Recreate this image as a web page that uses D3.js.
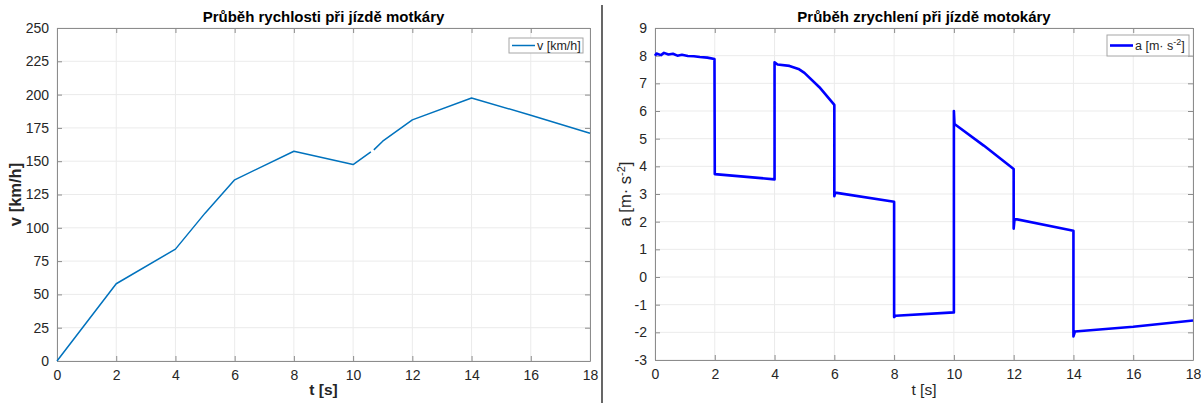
<!DOCTYPE html>
<html>
<head>
<meta charset="utf-8">
<script src="https://cdn.jsdelivr.net/npm/d3@7"></script>
<style>
  body { margin: 0; background: #fff; }
  text { font-family: "Liberation Sans", Arial, Helvetica, sans-serif; }
</style>
</head>
<body>
<div id="chart"></div>
<script>
// velocity series (null = small gap in the record)
var velT = [0, 2, 4, 5, 6, 8, 10, 10.6, 10.65, 10.7, 11, 12, 14, 16, 18];
var velV = [0, 58, 84, 111, 136, 157.5, 147.5, 157, null, 158.5, 165, 181, 197.5, 184.5, 171];
var velTicksY = [0, 25, 50, 75, 100, 125, 150, 175, 200, 225, 250];

// acceleration series (repeated times = steps)
var accT = [0, 0.05, 0.2, 0.3, 0.45, 0.6, 0.75, 0.9, 1.1, 1.3, 1.5, 1.75, 1.99,
  2.0, 4.0, 4.0, 4.1, 4.5, 4.8, 5.0, 5.5, 6.0, 6.0, 6.03, 8.0, 8.0, 8.05, 10.0,
  10.0, 10.02, 11.0, 12.0, 12.0, 12.03, 14.0, 14.0, 14.05, 16.0, 18.0];
var accV = [8.0, 8.08, 8.02, 8.1, 8.04, 8.07, 8.0, 8.03, 7.99, 7.98, 7.95, 7.93, 7.88,
  3.72, 3.53, 7.76, 7.68, 7.63, 7.52, 7.38, 6.86, 6.22, 2.92, 3.05, 2.72, -1.45, -1.4, -1.28,
  6.0, 5.53, 4.75, 3.9, 1.75, 2.1, 1.67, -2.15, -1.97, -1.8, -1.57];
var accTicksY = [-3, -2, -1, 0, 1, 2, 3, 4, 5, 6, 7, 8, 9];
var timeTicks = [0, 2, 4, 6, 8, 10, 12, 14, 16, 18];

var W = 1201, H = 403;
var svg = d3.select("#chart").append("svg").attr("width", W).attr("height", H);

// divider between the two figures
svg.append("line")
  .attr("x1", 602).attr("x2", 602).attr("y1", 5).attr("y2", H)
  .attr("stroke", "#000").attr("stroke-width", 1.2);

var axisColor = "#8c8c8c", gridColor = "#ebebeb", textColor = "#262626";

function drawPanel(opt) {
  var x = d3.scaleLinear().domain([0, 18]).range([opt.left, opt.right]);
  var y = d3.scaleLinear().domain(opt.yDomain).range([opt.bottom, opt.top]);
  var g = svg.append("g");

  // grid
  g.append("g").selectAll("line.gx").data(timeTicks).enter().append("line")
    .attr("x1", function (d) { return x(d); }).attr("x2", function (d) { return x(d); })
    .attr("y1", opt.top).attr("y2", opt.bottom)
    .attr("stroke", gridColor).attr("stroke-width", 1);
  g.append("g").selectAll("line.gy").data(opt.yTicks).enter().append("line")
    .attr("x1", opt.left).attr("x2", opt.right)
    .attr("y1", function (d) { return y(d); }).attr("y2", function (d) { return y(d); })
    .attr("stroke", gridColor).attr("stroke-width", 1);

  // axes (ticks inside, box)
  var fmt = function (d) { return d < 0 ? "-" + Math.abs(d) : d; };
  g.append("g").attr("transform", "translate(0," + opt.bottom + ")")
    .call(d3.axisBottom(x).tickValues(timeTicks).tickSizeInner(-5).tickSizeOuter(0).tickPadding(9))
    .call(function (a) { a.select(".domain").attr("stroke", axisColor); });
  g.append("g").attr("transform", "translate(0," + opt.top + ")")
    .call(d3.axisTop(x).tickValues(timeTicks).tickSizeInner(-5).tickSizeOuter(0).tickFormat(""))
    .call(function (a) { a.select(".domain").attr("stroke", axisColor); });
  g.append("g").attr("transform", "translate(" + opt.left + ",0)")
    .call(d3.axisLeft(y).tickValues(opt.yTicks).tickSizeInner(-5).tickSizeOuter(0).tickPadding(8).tickFormat(fmt))
    .call(function (a) { a.select(".domain").attr("stroke", axisColor); });
  g.append("g").attr("transform", "translate(" + opt.right + ",0)")
    .call(d3.axisRight(y).tickValues(opt.yTicks).tickSizeInner(-5).tickSizeOuter(0).tickFormat(""))
    .call(function (a) { a.select(".domain").attr("stroke", axisColor); });
  g.selectAll(".tick line").attr("stroke", axisColor);
  g.selectAll(".tick text").attr("fill", textColor).style("font-size", "14px")
    .style("font-family", "'Liberation Sans', Arial, sans-serif");

  // data line
  var pts = opt.t.map(function (d, i) { return [d, opt.v[i]]; });
  g.append("path").datum(pts)
    .attr("fill", "none").attr("stroke", opt.color).attr("stroke-width", opt.lw)
    .attr("stroke-linejoin", "round")
    .attr("d", d3.line()
      .defined(function (d) { return d[1] !== null; })
      .x(function (d) { return x(d[0]); }).y(function (d) { return y(d[1]); }));

  // title
  g.append("text").attr("x", (opt.left + opt.right) / 2).attr("y", 22)
    .attr("text-anchor", "middle").attr("font-weight", "bold").attr("font-size", 15)
    .attr("fill", "#000").text(opt.title);

  // x label
  g.append("text").attr("x", (opt.left + opt.right) / 2).attr("y", 395)
    .attr("text-anchor", "middle").attr("font-size", 15.5).attr("fill", textColor)
    .attr("font-weight", opt.boldLabels ? "bold" : "normal").text("t [s]");

  // y label
  var yl = g.append("text")
    .attr("transform", "translate(" + opt.ylabelX + "," + (opt.top + opt.bottom) / 2 + ") rotate(-90)")
    .attr("text-anchor", "middle").attr("font-size", 16.5).attr("fill", textColor)
    .attr("font-weight", opt.boldLabels ? "bold" : "normal");
  opt.ylabel(yl);

  // legend
  var lg = g.append("g");
  lg.append("rect").attr("x", opt.legend.x).attr("y", opt.legend.y)
    .attr("width", opt.legend.w).attr("height", opt.legend.h)
    .attr("fill", "#fff").attr("stroke", "#a6a6a6").attr("stroke-width", 1);
  lg.append("line").attr("x1", opt.legend.x + 3).attr("x2", opt.legend.x + 26)
    .attr("y1", opt.legend.y + opt.legend.h / 2).attr("y2", opt.legend.y + opt.legend.h / 2)
    .attr("stroke", opt.color).attr("stroke-width", opt.lw);
  var lt = lg.append("text").attr("x", opt.legend.x + 28)
    .attr("y", opt.legend.y + opt.legend.h / 2 + 4.5)
    .attr("font-size", 12.5).attr("fill", textColor);
  opt.legendText(lt);
}

drawPanel({
  left: 57, right: 590, top: 28, bottom: 361,
  yDomain: [0, 250], yTicks: velTicksY,
  t: velT, v: velV, color: "#0072BD", lw: 1.5,
  title: "Průběh rychlosti při jízdě motkáry",
  boldLabels: true, ylabelX: 21,
  ylabel: function (s) { s.text("v [km/h]"); },
  legend: { x: 509, y: 38, w: 74, h: 15 },
  legendText: function (s) { s.text("v [km/h]"); }
});

drawPanel({
  left: 655, right: 1193, top: 28, bottom: 360,
  yDomain: [-3, 9], yTicks: accTicksY,
  t: accT, v: accV, color: "#0000FF", lw: 2.6,
  title: "Průběh zrychlení při jízdě motokáry",
  boldLabels: false, ylabelX: 631,
  ylabel: function (s) {
    s.append("tspan").text("a [m· s");
    s.append("tspan").attr("dy", -6).attr("font-size", 11).text("-2");
    s.append("tspan").attr("dy", 6).text("]");
  },
  legend: { x: 1107, y: 35, w: 82, h: 21 },
  legendText: function (s) {
    s.append("tspan").text("a [m· s");
    s.append("tspan").attr("dy", -5).attr("font-size", 9).text("-2");
    s.append("tspan").attr("dy", 5).text("]");
  }
});
</script>
</body>
</html>
